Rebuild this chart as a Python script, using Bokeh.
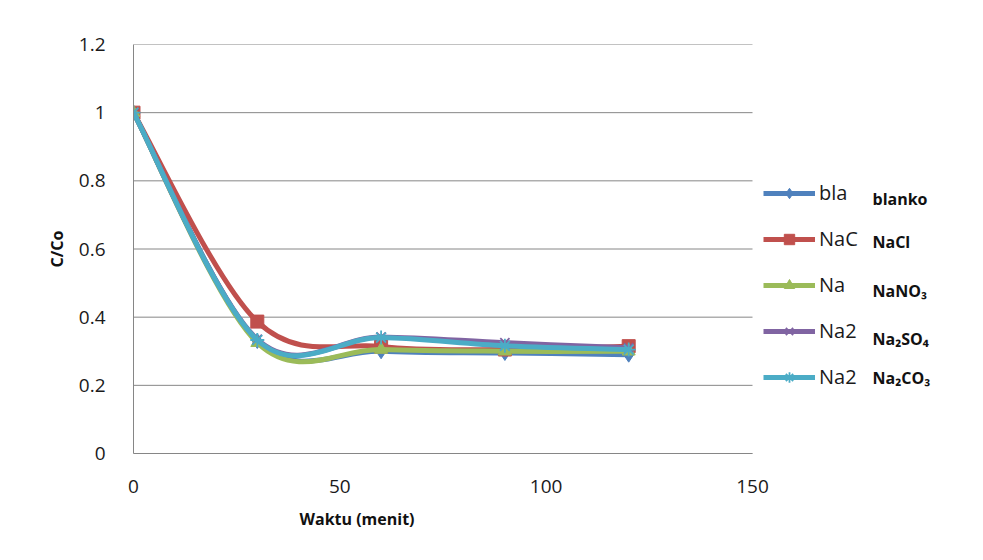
from bokeh.plotting import figure
from bokeh.models import (Range1d, FixedTicker, CustomJSTickFormatter, Legend, LegendItem,
                          Label, ColumnDataSource, Title)
from bokeh.embed import file_html
from bokeh.resources import INLINE

# ---- data ----
waktu = [0, 30, 60, 90, 120]
series_names = ["blanko", "NaCl", "NaNO₃", "Na₂SO₄", "Na₂CO₃"]
legend_short = ["bla", "NaC", "Na", "Na2", "Na2"]
blanko = [1.0, 0.330, 0.300, 0.295, 0.290]
nacl = [1.0, 0.387, 0.314, 0.305, 0.315]
nano3 = [1.0, 0.325, 0.305, 0.300, 0.300]
na2so4 = [1.0, 0.335, 0.342, 0.325, 0.310]
na2co3 = [1.0, 0.333, 0.340, 0.316, 0.305]
values = [blanko, nacl, nano3, na2so4, na2co3]
y_ticks = [0, 0.2, 0.4, 0.6, 0.8, 1.0, 1.2]
x_ticks = [0, 50, 100, 150]

colors = ["#4F81BD", "#C0504D", "#9BBB59", "#8064A2", "#4BACC6"]
markers = ["diamond", "square", "triangle", "x", "asterisk"]
msizes = [15, 13, 13, 13, 14]

FONT = "Open Sans"
FRAME_BOTTOM = 453
FRAME_LEFT = 133
AXIS_RIGHT_PX = 752
W = 983

x_end = x_ticks[-1] * (W - FRAME_LEFT) / (AXIS_RIGHT_PX - FRAME_LEFT)

p = figure(width=W, height=560, output_backend="svg", toolbar_location=None,
           x_range=Range1d(0, x_end), y_range=Range1d(y_ticks[0], y_ticks[-1]),
           min_border_left=FRAME_LEFT, min_border_right=0, min_border_top=44, min_border_bottom=107)
p.outline_line_color = None
p.xgrid.grid_line_color = None
p.ygrid.grid_line_color = None

# horizontal grid lines limited to the axis extent
p.segment(x0=[x_ticks[0]] * len(y_ticks), x1=[x_ticks[-1]] * len(y_ticks),
          y0=y_ticks, y1=y_ticks, line_color="#868686", line_width=1)

p.xaxis.ticker = FixedTicker(ticks=x_ticks)
p.yaxis.ticker = FixedTicker(ticks=y_ticks)
p.xaxis.bounds = (x_ticks[0], x_ticks[-1])
p.yaxis.formatter = CustomJSTickFormatter(code="return tick.toFixed(1).replace(/\\.0$/, '');")
for ax in (p.xaxis[0], p.yaxis[0]):
    ax.axis_line_color = "#868686"
    ax.axis_line_width = 1
    ax.major_tick_line_color = None
    ax.minor_tick_line_color = None
    ax.major_label_text_font = FONT
    ax.major_label_text_font_size = "19px"
    ax.major_label_text_color = "#1a1a1a"
    ax.axis_label_text_font = FONT
    ax.axis_label_text_font_style = "bold"
    ax.axis_label_text_font_size = "16px"
    ax.axis_label_text_color = "#111111"
p.yaxis.axis_label = "C/Co"
p.xaxis.major_label_standoff = 20
p.yaxis.major_label_standoff = 22
p.yaxis.axis_label_standoff = 8

p.add_layout(Title(text="Waktu (menit)", align="left", offset=166, standoff=20,
                   text_font=FONT, text_font_style="bold", text_font_size="16px",
                   text_color="#111111"), "below")


def smooth_controls(xs, ys):
    n = len(xs)
    x0, y0, x1, y1, cx0, cy0, cx1, cy1 = [], [], [], [], [], [], [], []
    for i in range(n - 1):
        pm = i - 1 if i > 0 else i
        pp = i + 2 if i + 2 < n else i + 1
        x0.append(xs[i]); y0.append(ys[i])
        x1.append(xs[i + 1]); y1.append(ys[i + 1])
        cx0.append(xs[i] + (xs[i + 1] - xs[pm]) / 6.0)
        cy0.append(ys[i] + (ys[i + 1] - ys[pm]) / 6.0)
        cx1.append(xs[i + 1] - (xs[pp] - xs[i]) / 6.0)
        cy1.append(ys[i + 1] - (ys[pp] - ys[i]) / 6.0)
    return dict(x0=x0, y0=y0, x1=x1, y1=y1, cx0=cx0, cy0=cy0, cx1=cx1, cy1=cy1)


items = []
for name, short, ys, c, m, s in zip(series_names, legend_short, values, colors, markers, msizes):
    src = ColumnDataSource(smooth_controls(waktu, ys))
    bz = p.bezier(x0="x0", y0="y0", x1="x1", y1="y1", cx0="cx0", cy0="cy0", cx1="cx1", cy1="cy1",
                  source=src, line_color=c, line_width=5)
    if m in ("x", "asterisk"):
        sc = p.scatter(waktu, ys, marker=m, size=s, line_color=c, line_width=1.8, fill_color=None)
    else:
        sc = p.scatter(waktu, ys, marker=m, size=s, line_color=c, fill_color=c, line_width=1)
    items.append(LegendItem(label=short, renderers=[bz, sc]))

legend = Legend(items=items, location=(763 - FRAME_LEFT, FRAME_BOTTOM - 390), orientation="vertical",
                glyph_width=52, glyph_height=26, label_height=26, spacing=19,
                label_standoff=4, padding=0, margin=0,
                border_line_color=None, background_fill_alpha=0,
                label_text_font=FONT, label_text_font_size="20px", label_text_color="#1a1a1a")
p.add_layout(legend, "center")

label_y_screen = [198, 241, 290, 338, 377]
for name, ys_px in zip(series_names, label_y_screen):
    p.add_layout(Label(x=872 - FRAME_LEFT, y=FRAME_BOTTOM - ys_px, x_units="screen", y_units="screen",
                       text=name, text_font=FONT, text_font_style="bold", text_font_size="16px",
                       text_color="#111111", text_baseline="middle", text_align="left"))

open("out.html", "w").write(file_html(p, INLINE))
